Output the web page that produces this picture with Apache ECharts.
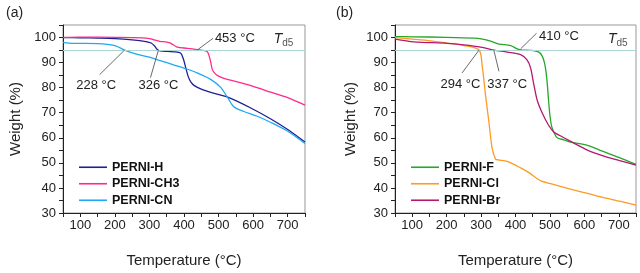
<!DOCTYPE html>
<html><head><meta charset="utf-8">
<script src="https://cdn.jsdelivr.net/npm/echarts@6/dist/echarts.min.js"></script>
<style>html,body{margin:0;padding:0;background:#fff}#c{width:640px;height:273px}</style>
</head><body><div id="c"></div>
<script>
// ---- data (temperature °C, weight %) ----
const hT   = [50,100,150,200,250,290,305,315,322,328,340,370,390,398,405,412,420,430,450,480,530,600,650,700,750];
const hW   = [100,99.9,99.8,99.6,99.1,98.4,97.8,96.6,95.3,94.8,94.6,94.3,93.8,91.5,88,84.5,82.2,80.8,79.4,78,76,71.4,67.6,63.3,58.3];
const ch3T = [50,100,200,280,300,315,330,350,361,380,410,438,460,468,473,477,482,490,500,520,554,600,651,700,750];
const ch3W = [100.1,100.2,100.1,99.9,99.6,99.0,98.5,98.2,97.8,96.2,95.7,95.2,94.8,94.3,92.5,90.4,87.2,85.6,84.6,83.5,82.3,80.5,78.2,76,73];
const cnT  = [50,80,150,200,228,260,300,326,370,400,438,477,506,525,544,573,612,650,700,750];
const cnW  = [98.1,97.7,97.6,96.8,95.0,93.5,92.2,91.0,89.1,87.8,85.9,83.3,80.1,76.3,72.4,70.5,68.6,66.2,62.6,57.7];
const fT   = [50,100,200,280,300,330,352,386,405,420,444,468,478,484,488,492,496,500,505,512,521,540,560,609,650,700,750];
const fW   = [100.4,100.3,100.1,99.8,99.5,98.5,97.4,96.8,95.5,95.0,94.9,94.2,92.5,90,87,82,75,69,64.5,62,60,59.2,58.3,57,54.8,52.2,49.4];
const clT  = [50,100,153,200,250,294,303,313,323,332,342,350,376,415,440,473,512,560,609,650,706,750];
const clW  = [100,99.4,98.7,97.8,96.8,95.0,89,77,66,56,51.5,51.2,50.6,48,46,42.9,41.3,39.5,37.8,36.3,34.6,33.1];
const brT  = [50,105,202,250,299,337,376,415,434,444,453,463,478,497,512,530,560,609,650,700,750];
const brW  = [99.4,98.3,97.7,97.1,96.2,95.0,94.2,93.2,91,87.8,81.4,75,69.8,64.8,62.2,60.8,58.6,55.1,53,51,49.1];
const xTicks = [100,200,300,400,500,600,700];
const yTicks = [30,40,50,60,70,80,90,100];
const td5 = 95;
// annotations: [label, curve point x,y, leader end x,y, label x,y]
const annA = [['228 °C',228,95,156,85.2,146,80.9],['326 °C',326,95,303,84,326,80.9],['453 °C',440,95.2,484,99.7,547,99.7]];
const annB = [['294 °C',294,95,245,85.9,240,81.4],['337 °C',337,95,352,86.5,376,81.4],['410 °C',415,95.5,461,101.7,526,100.4]];
const td5Pos = [[688,99.3],[697,99.3]];

const FONT = 'Liberation Sans, Arial, sans-serif';
const zip = (a,b)=>a.map((v,i)=>[v,b[i]]);

function xAxisOf(gi){
  return {type:'value',gridIndex:gi,min:50,max:750,interval:50,
    axisLine:{show:true,onZero:false,lineStyle:{color:'#222',width:1}},
    axisTick:{show:true,length:4,inside:false,lineStyle:{color:'#222'}},
    axisLabel:{color:'#222',fontSize:13,fontFamily:FONT,margin:6,
      formatter:v=>xTicks.includes(v)?String(v):''},
    splitLine:{show:false},
    name:'Temperature (°C)',nameLocation:'middle',nameGap:40,
    nameTextStyle:{fontSize:15,color:'#222',fontFamily:FONT}};
}
function yAxisOf(gi,gap){
  return {type:'value',gridIndex:gi,min:30,max:105,interval:5,
    axisLine:{show:true,onZero:false,lineStyle:{color:'#222',width:1}},
    axisTick:{show:true,length:4,lineStyle:{color:'#222'}},
    axisLabel:{color:'#222',fontSize:13,fontFamily:FONT,margin:7,
      formatter:v=>yTicks.includes(v)?String(v):''},
    splitLine:{show:false},
    name:'Weight (%)',nameLocation:'middle',nameGap:gap,
    nameTextStyle:{fontSize:15,color:'#222',fontFamily:FONT}};
}
function annot(list, tdp){
  const lines = [{yAxis:td5, lineStyle:{color:'#acd6d6',width:1.2,type:'solid'}}];
  list.forEach(a=>lines.push([{coord:[a[1],a[2]]},{coord:[a[3],a[4]]}]));
  const pts = list.map(a=>({name:a[0],coord:[a[5],a[6]]}));
  pts.push({name:'{t|T}{s|d5}',coord:tdp});
  return {
    markLine:{silent:true,symbol:'none',animation:false,label:{show:false},
      lineStyle:{color:'#444',width:0.8,type:'solid'},data:lines},
    markPoint:{silent:true,symbol:'rect',symbolSize:1,animation:false,
      itemStyle:{color:'rgba(0,0,0,0)'},
      label:{show:true,position:'inside',color:'#222',fontSize:13,fontFamily:FONT,
        formatter:p=>p.name,
        rich:{t:{fontStyle:'italic',fontSize:14,fontFamily:FONT,color:'#222'},
              s:{fontSize:10,fontFamily:FONT,color:'#555',padding:[7,0,0,0]}}},
      data:pts}
  };
}
function line(name,data,color,xi,extra){
  return Object.assign({type:'line',name,data,xAxisIndex:xi,yAxisIndex:xi,
    showSymbol:false,smooth:0.3,animation:false,
    lineStyle:{color,width:1.3},itemStyle:{color},z:3},extra||{});
}
function legendOf(left,names){
  return {orient:'vertical',left,top:154,itemWidth:28,itemHeight:1.6,itemGap:0,icon:'rect',
    data:names,selectedMode:false,
    textStyle:{fontSize:12.5,fontWeight:'bold',color:'#111',fontFamily:FONT,lineHeight:16.5}};
}
const option = {
  backgroundColor:'#fff',
  title:[{text:'(a)',left:1,top:1,textStyle:{fontSize:14,fontWeight:'normal',color:'#222',fontFamily:FONT}},
         {text:'(b)',left:331,top:1,textStyle:{fontSize:14,fontWeight:'normal',color:'#222',fontFamily:FONT}}],
  grid:[{left:63,right:335,top:25,bottom:53,show:true,borderColor:'#999',borderWidth:1},
        {left:395,right:4,top:25,bottom:53,show:true,borderColor:'#999',borderWidth:1}],
  xAxis:[xAxisOf(0),xAxisOf(1)],
  yAxis:[yAxisOf(0,40),yAxisOf(1,37)],
  legend:[legendOf(74,['PERNI-H','PERNI-CH3','PERNI-CN']),legendOf(406,['PERNI-F','PERNI-Cl','PERNI-Br'])],
  series:[
    line('PERNI-H',zip(hT,hW),'#1f1f96',0,annot(annA,td5Pos[0])),
    line('PERNI-CH3',zip(ch3T,ch3W),'#ff2a8a',0),
    line('PERNI-CN',zip(cnT,cnW),'#1fa9f2',0),
    line('PERNI-F',zip(fT,fW),'#25a82a',1,annot(annB,td5Pos[1])),
    line('PERNI-Cl',zip(clT,clW),'#ff9a22',1),
    line('PERNI-Br',zip(brT,brW),'#b4186f',1)
  ]
};
const chart = echarts.init(document.getElementById('c'),null,{renderer:'canvas'});
chart.setOption(option);
</script></body></html>
